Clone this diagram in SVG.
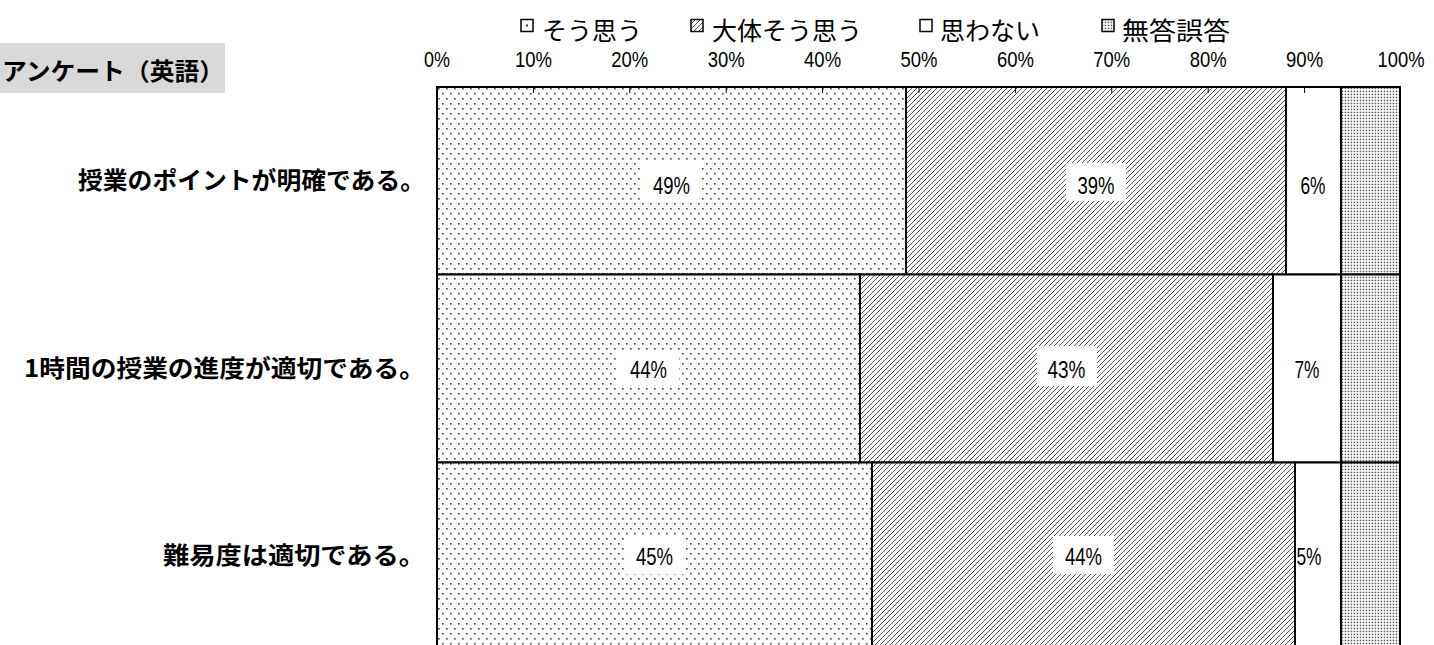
<svg xmlns="http://www.w3.org/2000/svg" width="1434" height="645" viewBox="0 0 1434 645">
<defs>
<pattern id="pDots" patternUnits="userSpaceOnUse" x="437" y="87" width="8" height="10">
<rect width="8" height="10" fill="#fff"/>
<rect x="1" y="1" width="1.6" height="1.6" fill="#444"/>
<rect x="5" y="6" width="1.6" height="1.6" fill="#444"/>
</pattern>
<pattern id="pHatch" patternUnits="userSpaceOnUse" x="0" y="0" width="5" height="5">
<rect width="5" height="5" fill="#fff"/>
<path d="M-1,1 L1,-1 M0,5 L5,0 M4,6 L6,4" stroke="#555" stroke-width="1"/>
</pattern>
<pattern id="pDense" patternUnits="userSpaceOnUse" x="0" y="0" width="3" height="3">
<rect width="3" height="3" fill="#fff"/>
<rect x="0.7" y="0.7" width="1.5" height="1.5" fill="#555"/>
</pattern>
<pattern id="pSw" patternUnits="userSpaceOnUse" x="521" y="19.5" width="12" height="12">
<rect width="12" height="12" fill="#fff"/>
<rect x="5" y="5" width="2" height="2" fill="#333"/>
</pattern>
</defs>
<style>
.seg{stroke:#000;stroke-width:2}
.sw{stroke:#000;stroke-width:1.5}
.num{font-family:"Liberation Sans Narrow","Liberation Sans",Arial,sans-serif;font-size:24px;fill:#000;text-anchor:middle}
.ax{font-family:"Liberation Sans Narrow","Liberation Sans",Arial,sans-serif;font-size:22px;fill:#000;text-anchor:middle}
.cat{font-family:"Noto Sans CJK JP",sans-serif;font-size:24px;font-weight:bold;fill:#000;text-anchor:end}
.leg{font-family:"Noto Sans CJK JP",sans-serif;font-size:25px;fill:#000}
.lbox{fill:#fff}
.tick{stroke:#000;stroke-width:1}
</style>
<rect width="1434" height="645" fill="#fff"/>

<g id="title">
<rect x="0" y="43" width="225" height="50" fill="#d9d9d9"/>
<text x="224" y="80" class="cat" textLength="222" lengthAdjust="spacingAndGlyphs">アンケート（英語）</text>
</g>

<g id="legend">
<rect x="521" y="19.5" width="12" height="12" fill="url(#pSw)" class="sw"/>
<text x="542" y="40" class="leg">そう思う</text>
<rect x="691" y="19.5" width="12" height="12" fill="url(#pHatch)" class="sw"/>
<text x="712" y="40" class="leg">大体そう思う</text>
<rect x="920" y="19.5" width="12" height="12" fill="#fff" class="sw"/>
<text x="940" y="40" class="leg">思わない</text>
<rect x="1102" y="19.5" width="12" height="12" fill="url(#pDense)" class="sw"/>
<text x="1122" y="40" class="leg" textLength="108" lengthAdjust="spacingAndGlyphs">無答誤答</text>
</g>

<g id="axis">
<text x="437" y="67" class="ax" textLength="26" lengthAdjust="spacingAndGlyphs">0%</text>
<text x="533.4" y="67" class="ax" textLength="37" lengthAdjust="spacingAndGlyphs">10%</text>
<text x="629.8" y="67" class="ax" textLength="37" lengthAdjust="spacingAndGlyphs">20%</text>
<text x="726.2" y="67" class="ax" textLength="37" lengthAdjust="spacingAndGlyphs">30%</text>
<text x="822.6" y="67" class="ax" textLength="37" lengthAdjust="spacingAndGlyphs">40%</text>
<text x="919" y="67" class="ax" textLength="37" lengthAdjust="spacingAndGlyphs">50%</text>
<text x="1015.4" y="67" class="ax" textLength="37" lengthAdjust="spacingAndGlyphs">60%</text>
<text x="1111.8" y="67" class="ax" textLength="37" lengthAdjust="spacingAndGlyphs">70%</text>
<text x="1208.2" y="67" class="ax" textLength="37" lengthAdjust="spacingAndGlyphs">80%</text>
<text x="1304.6" y="67" class="ax" textLength="37" lengthAdjust="spacingAndGlyphs">90%</text>
<text x="1401" y="67" class="ax" textLength="47" lengthAdjust="spacingAndGlyphs">100%</text>
</g>

<g id="row1">
<text x="425" y="189" class="cat" textLength="347" lengthAdjust="spacingAndGlyphs">授業のポイントが明確である。</text>
<rect x="437" y="87" width="469" height="187.5" fill="url(#pDots)" class="seg"/>
<rect x="906" y="87" width="380" height="187.5" fill="url(#pHatch)" class="seg"/>
<rect x="1286" y="87" width="55" height="187.5" fill="#fff" class="seg"/>
<rect x="1341" y="87" width="59" height="187.5" fill="url(#pDense)" class="seg"/>
<rect x="641" y="163" width="61" height="38" class="lbox"/>
<text x="671.5" y="194" class="num" textLength="37" lengthAdjust="spacingAndGlyphs">49%</text>
<rect x="1066" y="163" width="60" height="38" class="lbox"/>
<text x="1096" y="194" class="num" textLength="37" lengthAdjust="spacingAndGlyphs">39%</text>
<text x="1313" y="194" class="num" textLength="25" lengthAdjust="spacingAndGlyphs">6%</text>
</g>

<g id="row2">
<text x="425" y="377" class="cat" textLength="401" lengthAdjust="spacingAndGlyphs">1時間の授業の進度が適切である。</text>
<rect x="437" y="274.5" width="423" height="188" fill="url(#pDots)" class="seg"/>
<rect x="860" y="274.5" width="413" height="188" fill="url(#pHatch)" class="seg"/>
<rect x="1273" y="274.5" width="68" height="188" fill="#fff" class="seg"/>
<rect x="1341" y="274.5" width="59" height="188" fill="url(#pDense)" class="seg"/>
<rect x="618" y="350" width="61" height="38" class="lbox"/>
<text x="648.5" y="378" class="num" textLength="37" lengthAdjust="spacingAndGlyphs">44%</text>
<rect x="1037" y="346" width="60" height="40" class="lbox"/>
<text x="1066.5" y="378" class="num" textLength="38" lengthAdjust="spacingAndGlyphs">43%</text>
<text x="1307" y="378" class="num" textLength="25" lengthAdjust="spacingAndGlyphs">7%</text>
</g>

<g id="row3">
<text x="425" y="564" class="cat" textLength="262" lengthAdjust="spacingAndGlyphs">難易度は適切である。</text>
<rect x="437" y="462.5" width="435" height="190" fill="url(#pDots)" class="seg"/>
<rect x="872" y="462.5" width="423" height="190" fill="url(#pHatch)" class="seg"/>
<rect x="1295" y="462.5" width="46" height="190" fill="#fff" class="seg"/>
<rect x="1341" y="462.5" width="59" height="190" fill="url(#pDense)" class="seg"/>
<rect x="624" y="536" width="61" height="38" class="lbox"/>
<text x="654.5" y="565" class="num" textLength="37" lengthAdjust="spacingAndGlyphs">45%</text>
<rect x="1053" y="536" width="61" height="38" class="lbox"/>
<text x="1083.5" y="565" class="num" textLength="37" lengthAdjust="spacingAndGlyphs">44%</text>
<text x="1309" y="565" class="num" textLength="25" lengthAdjust="spacingAndGlyphs">5%</text>
</g>

<g id="connectors">
<line x1="437" y1="87" x2="1400" y2="87" class="tick" stroke-width="2"/>
<line x1="437" y1="87" x2="437" y2="645" class="tick" stroke-width="2"/>
<line x1="533.4" y1="87" x2="533.4" y2="93" class="tick"/>
<line x1="629.8" y1="87" x2="629.8" y2="93" class="tick"/>
<line x1="726.2" y1="87" x2="726.2" y2="93" class="tick"/>
<line x1="822.6" y1="87" x2="822.6" y2="93" class="tick"/>
<line x1="919" y1="87" x2="919" y2="93" class="tick"/>
<line x1="1015.4" y1="87" x2="1015.4" y2="93" class="tick"/>
<line x1="1111.8" y1="87" x2="1111.8" y2="93" class="tick"/>
<line x1="1208.2" y1="87" x2="1208.2" y2="93" class="tick"/>
<line x1="1304.6" y1="87" x2="1304.6" y2="93" class="tick"/>
</g>
</svg>
